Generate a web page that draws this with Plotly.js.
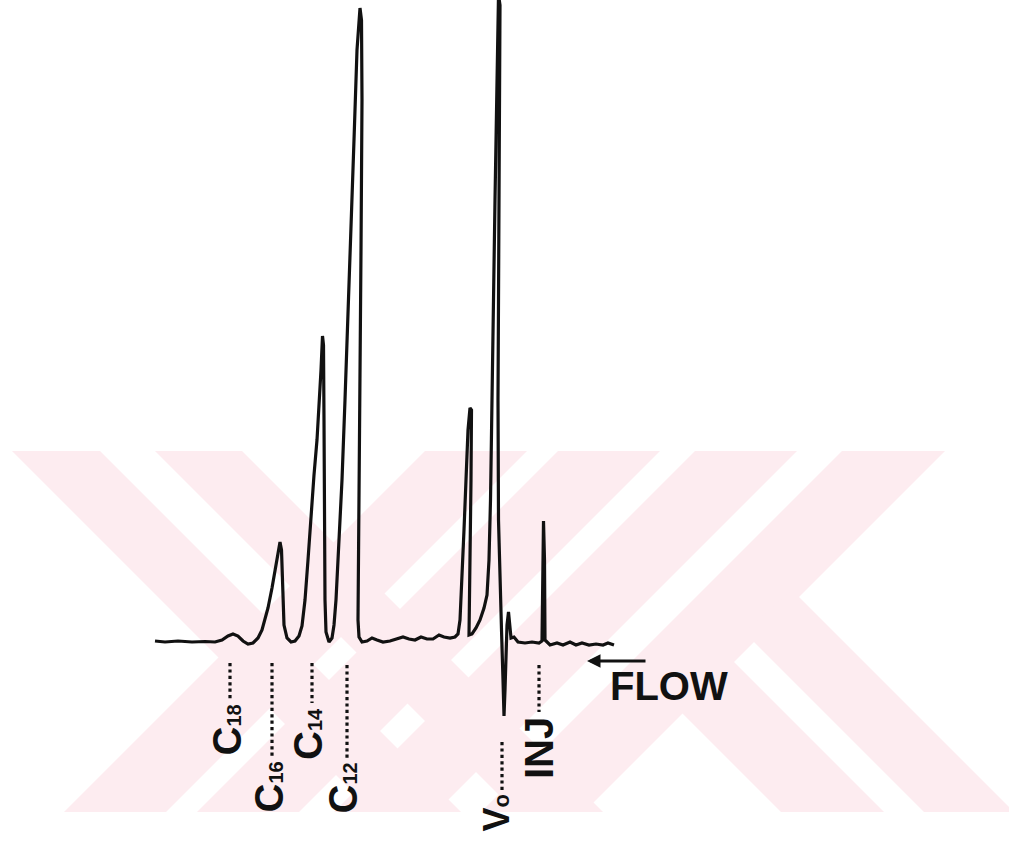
<!DOCTYPE html>
<html>
<head>
<meta charset="utf-8">
<script src="https://cdn.plot.ly/plotly-3.0.1.min.js"></script>
<style>
  html, body { margin: 0; padding: 0; background: #ffffff; }
  #chart { width: 1009px; height: 841px; }
</style>
</head>
<body>
<div id="chart"></div>
<script>
// ---- Data (time after injection, detector response) ----
const time = [
  38.8,37.8,36.5,35.1,33.8,32.8,32.1,31.5,31.0,30.5,30.0,29.5,29.0,28.5,28.1,27.8,27.5,27.1,26.7,26.4,
  26.3,26.15,26.05,25.9,25.6,25.2,24.8,24.4,24.1,23.8,23.5,23.2,22.9,22.6,22.4,22.2,22.05,21.95,21.9,21.85,
  21.8,21.7,21.4,21.1,20.9,20.7,20.4,20.1,19.8,19.5,19.2,18.9,18.6,18.4,18.3,18.15,18.1,18.2,18.35,18.45,
  18.5,18.4,18.1,
  17.6,17.1,16.6,16.0,15.3,14.6,14.0,13.4,12.8,12.2,11.6,11.0,10.4,9.9,9.3,8.8,
  8.5,8.3,8.1,7.9,7.7,7.5,7.3,7.15,7.2,7.3,7.4,7.4,7.1,6.7,6.3,5.9,5.6,5.4,5.25,5.1,
  4.95,4.8,4.65,4.55,4.45,4.3,4.35,4.45,4.5,4.45,4.3,4.15,4.0,3.9,3.8,3.7,3.6,3.45,3.35,3.2,
  2.9,2.5,1.8,1.1,0.4,0.1,-0.05,-0.15,-0.2,-0.7,-1.4,-2.0,-2.7,-3.3,-3.9,-4.6,-5.3,-6.0,-6.5,-7.1
];
const response = [
  0,-0.1,0,-0.1,-0.05,-0.1,0.1,0.5,0.7,0.5,0,-0.3,-0.2,0.3,1.1,2.1,3.3,5.3,7.6,9.6,
  9.9,9.1,5.1,1.6,0.3,-0.1,0,0.5,1.5,4.1,8.1,12.6,16.6,20.1,23.1,27.1,30.5,29.6,22.1,12.1,
  4.1,0.9,-0.1,0.3,1.6,4.1,10.1,16.1,24.1,32.1,41.1,50.1,59.1,62.6,63.3,62.1,54.1,39.1,24.1,9.1,
  2.1,0.4,-0.1,
  0,0.3,0.1,-0.1,0,0.2,0.4,0.2,0.1,0.4,0.2,0.2,0.6,0.4,0.3,0.4,
  0.7,2.1,6.1,11.1,16.1,21.1,23.3,23.1,16.1,8.1,2.1,0.6,0.7,1.3,2.1,3.3,4.6,8.1,14.1,22.1,
  34.1,44.1,54.1,61.1,64.6,63.6,54.1,39.1,24.1,12.1,5.1,1.1,-3.9,-7.5,-4.9,-0.9,1.6,2.9,1.6,0.3,
  0.4,-0.1,-0.2,-0.1,-0.2,0,12.0,8.1,0.1,-0.4,-0.2,-0.4,-0.1,-0.4,-0.2,-0.4,-0.3,-0.4,-0.2,-0.4
];

// Peak / marker labels
const labelTimes = [31.3, 27.1, 23.1, 19.6, 4.1, 0.4];
const labelMain  = ['C', 'C', 'C', 'C', 'V', 'INJ'];
const labelSub   = ['18', '16', '14', '12', 'o', ''];
const flowLabel  = 'FLOW';

// ---- Layout / style settings ----
const leaderStart = [-2.2, -2.2, -2.2, -2.4, -10.1, -2.4];
const leaderEnd   = [-5.9, -11.6, -6.2, -11.7, -14.9, -7.1];
const mainSize    = [40, 40, 40, 40, 36, 40];
const subSize     = [20, 20, 20, 20, 22, 20];
const labelXShift = [-4, -4, -4, -5, -6, 0];
const FONT = 'Liberation Sans, Arial, Helvetica, sans-serif';
const INK = '#111111';

const W = 1009, H = 841;
// faint background watermark (pixel geometry of the scan)
const wmTop = 451, wmBottom = 812;
const wmBands = [
  [12, 100, 1], [155, 242, 1], [425, 527, -1], [558, 660, -1],
  [695, 797, -1], [842, 945, -1]
];
const wmArms = [
  [[672, 703], [724, 652], [884, 812], [781, 812]],
  [[744, 632], [792, 590], [1014, 812], [924, 812]]
];
const WM_COLOR = 'rgb(253,236,240)';

const toPaper = pts => 'M' + pts.map(p => (p[0] / W).toFixed(5) + ',' + (1 - p[1] / H).toFixed(5)).join('L') + 'Z';
const shapes = [];
wmBands.forEach(([a, b, d]) => {
  const h = wmBottom - wmTop;
  shapes.push({ type: 'path', xref: 'paper', yref: 'paper',
    path: toPaper([[a, wmTop], [b, wmTop], [b + d * h, wmBottom], [a + d * h, wmBottom]]),
    fillcolor: WM_COLOR, line: { width: 0 }, layer: 'below' });
});
wmArms.forEach(pts => {
  shapes.push({ type: 'path', xref: 'paper', yref: 'paper', path: toPaper(pts),
    fillcolor: WM_COLOR, line: { width: 0 }, layer: 'below' });
});

const annotations = [];
labelTimes.forEach((t, i) => {
  shapes.push({ type: 'line', xref: 'x', yref: 'y', x0: t, x1: t,
    y0: leaderStart[i], y1: leaderEnd[i], line: { color: INK, width: 3.2, dash: 'dot' } });
  let txt = '<span style="font-size:' + mainSize[i] + 'px">' + labelMain[i] + '</span>';
  if (labelSub[i]) txt += '<span style="font-size:' + subSize[i] + 'px">' + labelSub[i] + '</span>';
  annotations.push({ x: t, y: leaderEnd[i], xref: 'x', yref: 'y', text: txt, showarrow: false,
    textangle: -90, xanchor: 'center', yanchor: 'top', xshift: labelXShift[i], yshift: -3,
    font: { family: FONT, size: mainSize[i], color: INK, weight: 700 } });
});

// flow direction arrow + label
annotations.push({ x: -4.4, y: -2.0, ax: -10.4, ay: -2.0, xref: 'x', yref: 'y', axref: 'x', ayref: 'y',
  text: '', showarrow: true, arrowhead: 2, arrowsize: 0.9, arrowwidth: 3, arrowcolor: INK });
annotations.push({ x: -12.6, y: -4.5, xref: 'x', yref: 'y', text: flowLabel, showarrow: false,
  xanchor: 'center', yanchor: 'middle', font: { family: FONT, size: 40, color: INK, weight: 700 } });

const trace = {
  x: time, y: response, type: 'scatter', mode: 'lines',
  line: { color: INK, width: 3.2 }, hoverinfo: 'skip'
};

const layout = {
  width: W, height: H,
  margin: { l: 0, r: 0, t: 0, b: 0, pad: 0 },
  paper_bgcolor: '#ffffff', plot_bgcolor: 'rgba(0,0,0,0)',
  showlegend: false,
  xaxis: { range: [54.3, -46.6], visible: false, fixedrange: true },
  yaxis: { range: [-20, 64.1], visible: false, fixedrange: true },
  shapes: shapes,
  annotations: annotations
};

Plotly.newPlot('chart', [trace], layout, { displayModeBar: false, staticPlot: true });
</script>
</body>
</html>
